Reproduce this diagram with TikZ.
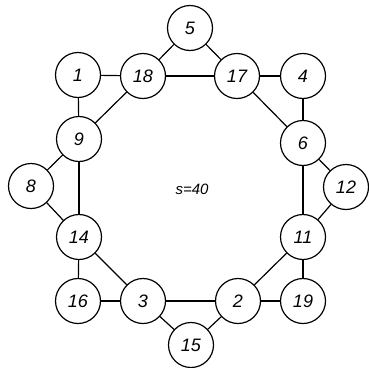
\documentclass[tikz,border=0pt]{standalone}
\usepackage{fontspec}
\setsansfont{Liberation Sans}
\begin{document}
\begin{tikzpicture}[x=1pt,y=-1pt,
  vtx/.style={circle,draw,line width=1.2pt,minimum size=45pt,inner sep=0pt,font=\sffamily\itshape\fontsize{18}{18}\selectfont},
  edge/.style={line width=1.2pt}]
\useasboundingbox (0,0) rectangle (369,367);
\node[vtx] (n5) at (190,28) {5};
\node[vtx] (n1) at (78,75) {1};
\node[vtx] (n18) at (143,76) {18};
\node[vtx] (n17) at (237,76) {17};
\node[vtx] (n4) at (303,76) {4};
\node[vtx] (n9) at (79,139) {9};
\node[vtx] (n6) at (303,143) {6};
\node[vtx] (n8) at (31,186) {8};
\node[vtx] (n12) at (346,187) {12};
\node[vtx] (n14) at (79,237) {14};
\node[vtx] (n11) at (303,237) {11};
\node[vtx] (n16) at (78,301) {16};
\node[vtx] (n3) at (143,301) {3};
\node[vtx] (n2) at (238,301) {2};
\node[vtx] (n19) at (303,301) {19};
\node[vtx] (n15) at (191,345) {15};
\node[font=\sffamily\itshape\fontsize{15}{15}\selectfont] (s) at (192,189) {s=40};
\foreach \a/\b in {n5/n18,n5/n17,n18/n17,n1/n18,n1/n9,n9/n18,n17/n4,n4/n6,n17/n6,
  n9/n8,n8/n14,n9/n14,n6/n12,n12/n11,n6/n11,n14/n16,n16/n3,n14/n3,n11/n19,n19/n2,n11/n2,
  n3/n15,n15/n2,n3/n2}
  \draw[edge] (\a) -- (\b);
\end{tikzpicture}
\end{document}
